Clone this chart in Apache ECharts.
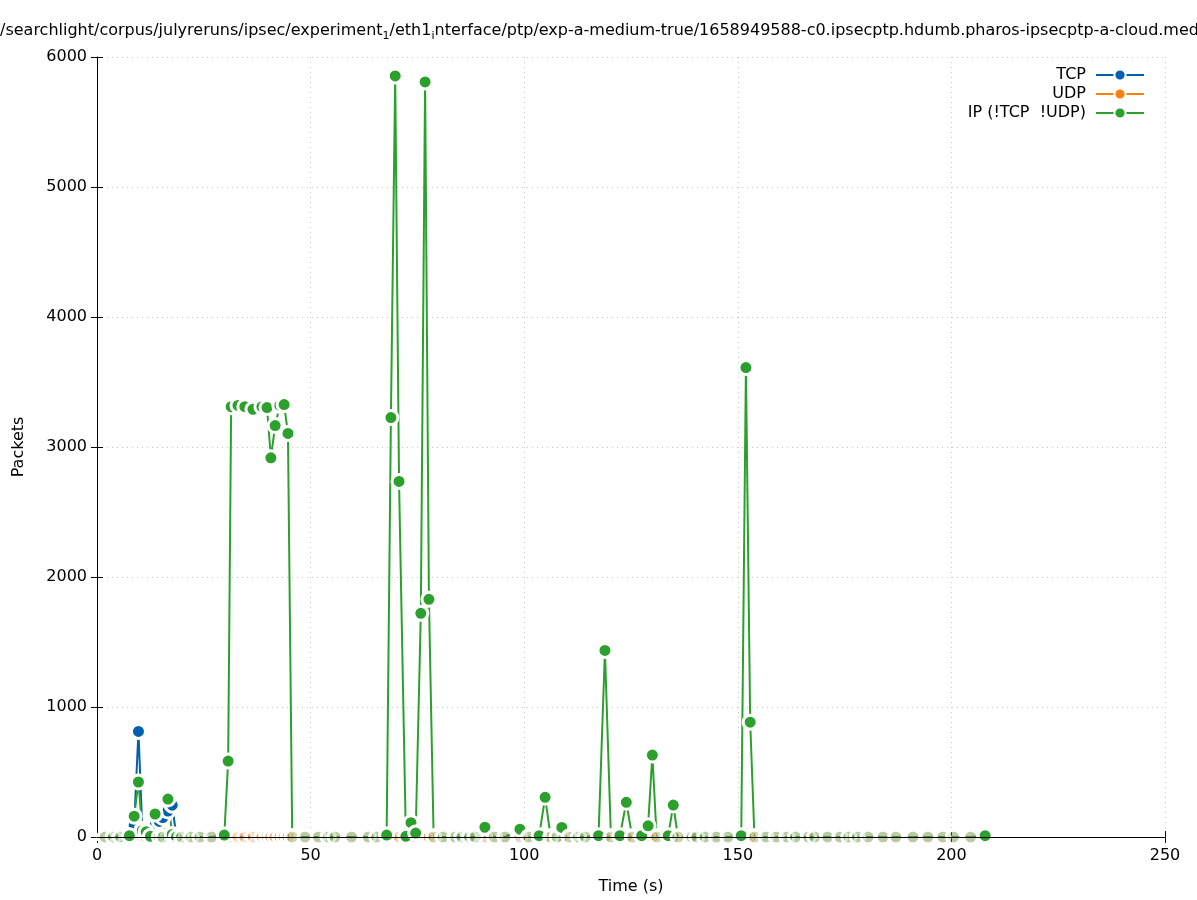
<!DOCTYPE html>
<html>
<head>
<meta charset="utf-8">
<script src="https://cdn.jsdelivr.net/npm/echarts@6/dist/echarts.min.js"></script>
<style>
  html, body { margin: 0; padding: 0; background: #fff; }
  #chart { width: 1197px; height: 900px; }
</style>
</head>
<body>
<div id="chart"></div>
<script>
// sample times (s)
const times = [
  1.9, 3.8, 5.5, 7.6, 8.7, 9.7, 10.6, 11.5, 12.5, 13.6,
  14.6, 15.4, 16.6, 17.6, 18.6, 19.8, 22.0, 24.1, 26.8, 29.8,
  30.7, 31.4, 33.0, 34.6, 36.5, 38.6, 39.8, 40.7, 41.7, 42.8,
  43.8, 44.7, 45.7, 48.7, 51.8, 54.1, 55.7, 59.6, 63.5, 65.5,
  67.8, 68.8, 69.8, 70.7, 72.3, 73.5, 74.6, 75.8, 76.8, 77.7,
  78.8, 81.0, 83.8, 85.4, 87.2, 88.5, 90.8, 93.0, 95.5, 99.0,
  101.0, 103.5, 104.9, 106.2, 107.7, 108.8, 110.5, 112.7, 114.3, 117.4,
  118.9, 120.3, 122.4, 123.9, 125.3, 127.5, 129.0, 130.0, 131.0, 133.7,
  134.9, 136.0, 139.2, 140.4, 142.3, 145.0, 147.7, 150.8, 151.9, 152.9,
  153.9, 156.6, 159.0, 161.5, 163.5, 166.5, 168.0, 171.0, 173.9, 176.0,
  178.0, 180.5, 184.0, 187.0, 191.0, 194.5, 198.0, 200.5, 204.5, 207.9
]

const tcpPackets = [
  0, 0, 0, 0, 90, 812, 60, 20, 0, 90,
  120, 150, 200, 245, 0, 0, 0, 0, 0, 0,
  0, 0, 0, 0, 0, 0, 0, 0, 0, 0,
  0, 0, 0, 0, 0, 0, 0, 0, 0, 0,
  0, 0, 0, 0, 0, 0, 0, 0, 0, 0,
  0, 0, 0, 0, 0, 0, 0, 0, 0, 0,
  0, 0, 0, 0, 0, 0, 0, 0, 0, 0,
  0, 0, 0, 0, 0, 0, 0, 0, 0, 0,
  0, 0, 0, 0, 0, 0, 0, 0, 0, 0,
  0, 0, 0, 0, 0, 0, 0, 0, 0, 0,
  0, 0, 0, 0, 0, 0, 0, 0, 0, 0
]

const udpPackets = [
  0, 0, 0, 0, 0, 0, 0, 0, 0, 0,
  0, 0, 0, 0, 0, 0, 0, 0, 0, 0,
  0, 0, 0, 0, 0, 0, 0, 0, 0, 0,
  0, 0, 0, 0, 0, 0, 0, 0, 0, 0,
  0, 0, 0, 0, 0, 0, 0, 0, 0, 0,
  0, 0, 0, 0, 0, 0, 0, 0, 0, 0,
  0, 0, 0, 0, 0, 0, 0, 0, 0, 0,
  0, 0, 0, 0, 0, 0, 0, 0, 0, 0,
  0, 0, 0, 0, 0, 0, 0, 0, 0, 0,
  0, 0, 0, 0, 0, 0, 0, 0, 0, 0,
  0, 0, 0, 0, 0, 0, 0, 0, 0, 0
]

const ipPackets = [
  0, 0, 0, 10, 160, 423, 50, 40, 5, 177,
  0, 0, 292, 20, 0, 0, 0, 0, 0, 15,
  584, 3310, 3320, 3310, 3290, 3310, 3303, 2917, 3165, 3320,
  3326, 3104, 0, 0, 0, 0, 0, 0, 0, 0,
  15, 3226, 5854, 2735, 5, 110, 30, 1721, 5808, 1828,
  0, 0, 0, 0, 0, 0, 75, 0, 0, 60,
  0, 10, 305, 0, 0, 74, 0, 0, 0, 10,
  1435, 0, 10, 267, 0, 10, 86, 630, 0, 10,
  246, 0, 0, 0, 0, 0, 0, 10, 3611, 883,
  0, 0, 0, 0, 0, 0, 0, 0, 0, 0,
  0, 0, 0, 0, 0, 0, 0, 0, 0, 10
]

const xTicks = [0, 50, 100, 150, 200, 250]
const yTicks = [0, 1000, 2000, 3000, 4000, 5000, 6000]

const colors = ['#0060ad', '#ff7f0e', '#2ca02c']
const faint = ['rgba(0,96,173,0.12)', 'rgba(255,127,14,0.2)', 'rgba(44,160,44,0.22)']
const font = 'DejaVu Sans'

function buildSeries (name, values, idx) {
  return {
    name: name,
    type: 'line',
    data: times.map((t, i) => ({
      value: [t, values[i]],
      itemStyle: { color: values[i] > 0 ? colors[idx] : faint[idx] }
    })),
    symbol: 'circle',
    symbolSize: 14,
    showAllSymbol: true,
    animation: false,
    lineStyle: { color: colors[idx], width: 2 },
    itemStyle: { color: colors[idx], borderColor: '#fff', borderWidth: 3 },
    emphasis: { disabled: true }
  }
}

const chart = echarts.init(document.getElementById('chart'))
chart.setOption({
  backgroundColor: '#fff',
  animation: false,
  color: colors,
  textStyle: { fontFamily: font },
  title: {
    left: 0,
    top: 20,
    padding: 0,
    text: '{a|/searchlight/corpus/julyreruns/ipsec/experiment}{s|1}{a|/eth1}{s|i}{a|nterface/ptp/exp-a-medium-true/1658949588-c0.ipsecptp.hdumb.pharos-ipsecptp-a-cloud.medium}',
    textStyle: {
      fontWeight: 'normal',
      rich: {
        a: { fontFamily: font, fontSize: 16, fontWeight: 'normal', color: '#000', lineHeight: 22 },
        s: { fontFamily: font, fontSize: 11, fontWeight: 'normal', color: '#000', lineHeight: 14, verticalAlign: 'bottom' }
      }
    }
  },
  legend: {
    orient: 'vertical',
    right: 52,
    top: 67,
    padding: 0,
    align: 'right',
    itemGap: 3,
    itemWidth: 48,
    itemHeight: 14,
    textStyle: { fontFamily: font, fontSize: 16, color: '#000', padding: [0, 5, 0, 0] },
    data: ['TCP', 'UDP', 'IP (!TCP  !UDP)']
  },
  grid: { left: 97, right: 32, top: 57, bottom: 62, containLabel: false },
  xAxis: [
    {
      type: 'value',
      min: xTicks[0],
      max: xTicks[xTicks.length - 1],
      interval: 50,
      name: 'Time (s)',
      nameLocation: 'middle',
      nameGap: 42,
      nameTextStyle: { fontFamily: font, fontSize: 16, color: '#000' },
      axisLine: { show: false },
      axisTick: { inside: true, length: 6, lineStyle: { color: '#000' } },
      axisLabel: { margin: 11, fontFamily: font, fontSize: 16, color: '#000' },
      splitLine: { show: true, lineStyle: { color: '#c8c8c8', type: [1, 4], width: 1 } }
    },
    {
      type: 'value',
      position: 'top',
      min: 0, max: 250, interval: 50,
      axisLine: { show: false },
      axisTick: { inside: true, length: 6, lineStyle: { color: '#000' } },
      axisLabel: { show: false },
      splitLine: { show: false }
    },
    {
      type: 'value',
      position: 'bottom',
      min: 0, max: 250, interval: 50,
      z: 10,
      axisLine: { show: true, lineStyle: { color: '#000', width: 1 } },
      axisTick: { show: false },
      axisLabel: { show: false },
      splitLine: { show: false }
    }
  ],
  yAxis: [
    {
      type: 'value',
      min: yTicks[0],
      max: yTicks[yTicks.length - 1],
      interval: 1000,
      name: 'Packets',
      nameLocation: 'middle',
      nameGap: 70,
      nameTextStyle: { fontFamily: font, fontSize: 16, color: '#000' },
      axisLine: { show: true, lineStyle: { color: '#000', width: 1 } },
      axisTick: { inside: true, length: 6, lineStyle: { color: '#000' } },
      axisLabel: { margin: 10, fontFamily: font, fontSize: 16, color: '#000', formatter: v => String(v) },
      splitLine: { show: true, lineStyle: { color: '#c8c8c8', type: [1, 4], width: 1 } }
    },
    {
      type: 'value',
      position: 'right',
      min: 0, max: 6000, interval: 1000,
      axisLine: { show: false },
      axisTick: { show: true, inside: true, length: 6, lineStyle: { color: '#000' } },
      axisLabel: { show: false },
      splitLine: { show: false }
    }
  ],
  series: [
    buildSeries('TCP', tcpPackets, 0),
    buildSeries('UDP', udpPackets, 1),
    buildSeries('IP (!TCP  !UDP)', ipPackets, 2)
  ]
})
</script>
</body>
</html>
